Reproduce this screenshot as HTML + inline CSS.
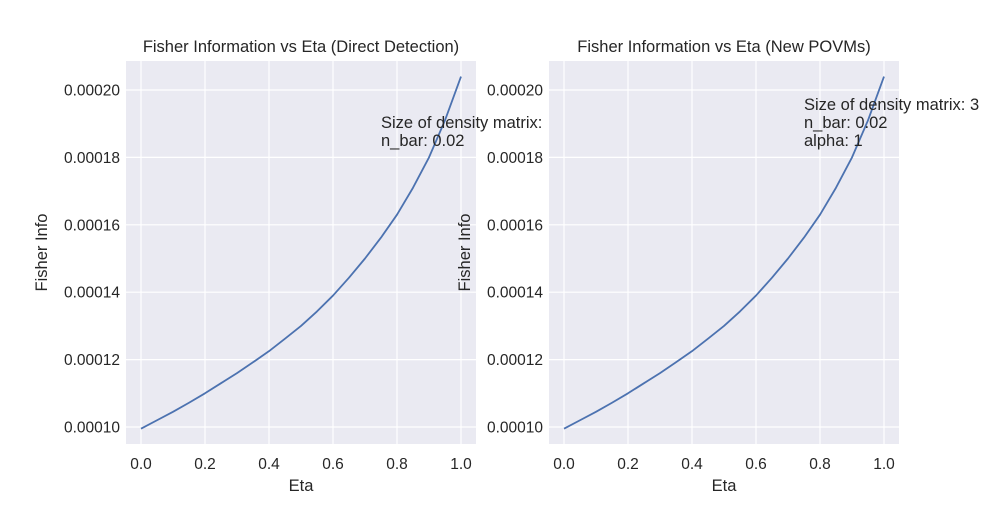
<!DOCTYPE html>
<html><head><meta charset="utf-8"><style>
body{margin:0;background:#fff;font-family:"Liberation Sans","DejaVu Sans",sans-serif}
svg text{font-family:"Liberation Sans","DejaVu Sans",sans-serif;fill:#262626}
</style></head><body>
<svg id="c" width="1000" height="500"></svg>
<script>
const etaVals=[0,0.05,0.1,0.15,0.2,0.25,0.3,0.35,0.4,0.45,0.5,0.55,0.6,0.65,0.7,0.75,0.8,0.85,0.9,0.95,1.0];
const fisherDirect=[0.0000995,0.0001020,0.0001045,0.0001072,0.0001100,0.0001130,0.0001160,0.0001192,0.0001225,0.0001262,0.0001300,0.0001343,0.0001390,0.0001443,0.0001500,0.0001562,0.0001630,0.0001710,0.0001800,0.0001910,0.0002040];
const fisherPovm=[0.0000995,0.0001020,0.0001045,0.0001072,0.0001100,0.0001130,0.0001160,0.0001192,0.0001225,0.0001262,0.0001300,0.0001343,0.0001390,0.0001443,0.0001500,0.0001562,0.0001630,0.0001710,0.0001800,0.0001910,0.0002040];
const xTicks=[0,0.2,0.4,0.6,0.8,1.0];
const xTickLabels=["0.0","0.2","0.4","0.6","0.8","1.0"];
const yTicks=[0.00010,0.00012,0.00014,0.00016,0.00018,0.00020];
const yTickLabels=["0.00010","0.00012","0.00014","0.00016","0.00018","0.00020"];
const svg=document.getElementById('c');
const NS='http://www.w3.org/2000/svg';
function mk(t,a,p){const e=document.createElementNS(NS,t);for(const k in a)e.setAttribute(k,a[k]);(p||svg).appendChild(e);return e;}
function panel(left,title,vals,notes,id){
  const L=left,R=left+350,T=61,B=444;
  const sx=v=>L+15+v*320;
  const sy=v=>427-(v-0.0001)/0.0001*337;
  const g=mk('g',{});
  
  
  const bg=mk('rect',{x:L,y:T,width:R-L,height:B-T,fill:'#eaeaf2'},g);
  
  
  xTicks.forEach((v,i)=>{
    const l=mk('line',{x1:sx(v),x2:sx(v),y1:T,y2:B,stroke:'#fff','stroke-width':1.2},g);
    
    
    const t=mk('text',{x:sx(v),y:469,'font-size':15.5,'text-anchor':'middle'},g);t.textContent=xTickLabels[i];
    
    
  });
  yTicks.forEach((v,i)=>{
    const l=mk('line',{x1:L,x2:R,y1:sy(v),y2:sy(v),stroke:'#fff','stroke-width':1.2},g);
    
    
    const t=mk('text',{x:L-6,y:sy(v)+5.5,'font-size':15.5,'text-anchor':'end'},g);t.textContent=yTickLabels[i];
    
    
  });
  const p=mk('polyline',{points:etaVals.map((e,i)=>sx(e)+','+sy(vals[i])).join(' '),fill:'none',stroke:'#4c72b0','stroke-width':1.8,'stroke-linejoin':'round'},g);
  
  
  const tt=mk('text',{x:(L+R)/2,y:52,'font-size':16.5,'text-anchor':'middle'},g);tt.textContent=title;
  
  
  const xl=mk('text',{x:(L+R)/2,y:491,'font-size':16.5,'text-anchor':'middle'},g);xl.textContent='Eta';
  
  
  const yl=mk('text',{x:0,y:0,'font-size':16.5,'text-anchor':'middle',transform:`translate(${L-79},${(T+B)/2}) rotate(-90)`},g);yl.textContent='Fisher Info';
  
  
  notes.lines.forEach((s,i)=>{
    const t=mk('text',{x:notes.x,y:notes.y+i*18,'font-size':16.5},g);t.textContent=s;
    
    
  });
}
panel(126,'Fisher Information vs Eta (Direct Detection)',fisherDirect,{x:381,y:128,lines:['Size of density matrix:','n_bar: 0.02']},'direct');
panel(549,'Fisher Information vs Eta (New POVMs)',fisherPovm,{x:804,y:110,lines:['Size of density matrix: 3','n_bar: 0.02','alpha: 1']},'povm');
</script>
</body></html>
